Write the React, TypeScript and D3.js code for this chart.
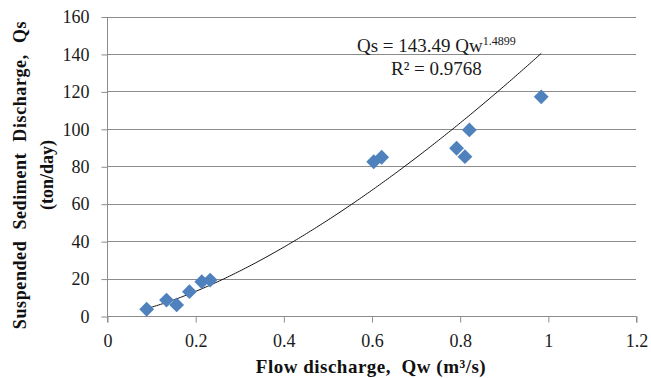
import React, { useRef, useEffect } from "react";
import * as d3 from "d3";

// Flow discharge Qw (m3/s) and suspended sediment discharge Qs (ton/day)
const flowQw = [0.09, 0.135, 0.158, 0.187, 0.215, 0.234, 0.605, 0.623, 0.793, 0.812, 0.822, 0.985];
const sedimentQs = [3.6, 8.5, 5.9, 13, 18.3, 19.2, 82.4, 84.8, 89.6, 85.1, 99.4, 117.1];

const xTicks = [0, 0.2, 0.4, 0.6, 0.8, 1, 1.2];
const yTicks = [0, 20, 40, 60, 80, 100, 120, 140, 160];

// power trend shown on the chart
const coefA = 143.49;
const coefB = 1.4899;
const rSquared = "0.9768";

export default function App() {
  const ref = useRef<SVGSVGElement>(null);

  useEffect(() => {
    if (!ref.current) return;
    const svg = d3.select(ref.current);
    svg.selectAll("*").remove();

    const w = 651;
    const h = 378;
    const margin = { top: 16.5, right: 15, bottom: 62, left: 107 };

    const x = d3.scaleLinear().domain([0, 1.2]).range([margin.left, w - margin.right]);
    const y = d3.scaleLinear().domain([0, 160]).range([h - margin.bottom, margin.top]);

    const serif = "'Liberation Serif', 'Times New Roman', serif";
    const grid = "#8c8c8c";

    // horizontal gridlines
    svg.append("g")
      .selectAll("line")
      .data(yTicks.filter(t => t > 0))
      .enter()
      .append("line")
      .attr("x1", x(0))
      .attr("x2", x(1.2))
      .attr("y1", d => Math.round(y(d)) + 0.5)
      .attr("y2", d => Math.round(y(d)) + 0.5)
      .attr("stroke", grid)
      .attr("stroke-width", 1);

    // y axis
    const yAxis = svg.append("g")
      .attr("transform", `translate(${x(0) + 0.5},0.5)`)
      .call(d3.axisLeft(y).tickValues(yTicks).tickSize(6).tickPadding(12).tickFormat(d3.format("d")));
    yAxis.select(".domain").attr("stroke", grid).attr("d", `M0,${y(160)}V${y(0)}`);
    yAxis.selectAll(".tick line").attr("stroke", grid);
    yAxis.selectAll("text")
      .attr("font-family", serif)
      .attr("font-size", 18)
      .attr("fill", "#1a1a1a");

    // x axis
    const xAxis = svg.append("g")
      .attr("transform", `translate(0.5,${Math.round(y(0)) + 0.5})`)
      .call(d3.axisBottom(x).tickValues(xTicks).tickSize(6).tickPadding(12).tickFormat(d => String(d)));
    xAxis.select(".domain").attr("stroke", grid).attr("d", `M${x(0)},6V0H${x(1.2)}V6`);
    xAxis.selectAll(".tick line").attr("stroke", grid);
    xAxis.selectAll("text")
      .attr("font-family", serif)
      .attr("font-size", 18)
      .attr("fill", "#1a1a1a");

    // trend line
    const lo = d3.min(flowQw)!;
    const hi = d3.max(flowQw)!;
    const xs = d3.range(0, 201).map(i => lo + (hi - lo) * i / 200);
    const line = d3.line<number>()
      .x(d => x(d))
      .y(d => y(coefA * Math.pow(d, coefB)));
    svg.append("path")
      .datum(xs)
      .attr("d", line)
      .attr("fill", "none")
      .attr("stroke", "#111")
      .attr("stroke-width", 1);

    // points (diamonds)
    const diamond = d3.symbol().type(d3.symbolDiamond2).size(140);
    svg.append("g")
      .selectAll("path")
      .data(flowQw.map((q, i) => [q, sedimentQs[i]]))
      .enter()
      .append("path")
      .attr("d", diamond)
      .attr("transform", d => `translate(${x(d[0])},${y(d[1])})`)
      .attr("fill", "#4f81bd");

    // equation
    const eq = svg.append("text")
      .attr("x", 357)
      .attr("y", 52)
      .attr("font-family", serif)
      .attr("font-size", 19)
      .attr("fill", "#1a1a1a");
    eq.append("tspan").text(`Qs = ${coefA} Qw`);
    eq.append("tspan").attr("font-size", 12).attr("dy", -7).text(String(coefB));
    svg.append("text")
      .attr("x", 391)
      .attr("y", 75)
      .attr("font-family", serif)
      .attr("font-size", 19)
      .attr("fill", "#1a1a1a")
      .text(`R² = ${rSquared}`);

    // axis titles
    svg.append("text")
      .attr("x", 371)
      .attr("y", 373)
      .attr("text-anchor", "middle")
      .attr("font-family", serif)
      .attr("font-weight", "bold")
      .attr("font-size", 19)
      .attr("letter-spacing", 0.5)
      .attr("fill", "#111")
      .attr("xml:space", "preserve")
      .text("Flow discharge,  Qw (m³/s)");

    const yt = svg.append("g").attr("transform", "translate(0,175) rotate(-90)");
    yt.append("text")
      .attr("x", 0)
      .attr("y", 26)
      .attr("text-anchor", "middle")
      .attr("font-family", serif)
      .attr("font-weight", "bold")
      .attr("font-size", 18)
      .attr("fill", "#111")
      .attr("word-spacing", 6)
      .attr("letter-spacing", 0.6)
      .text("Suspended Sediment Discharge, Qs");
    yt.append("text")
      .attr("x", 0)
      .attr("y", 53)
      .attr("text-anchor", "middle")
      .attr("font-family", serif)
      .attr("font-weight", "bold")
      .attr("font-size", 18)
      .attr("fill", "#111")
      .text("(ton/day)");
  }, []);

  return (
    <svg
      ref={ref}
      width={651}
      height={378}
      style={{ position: "absolute", left: 0, top: 0, background: "#fff" }}
    />
  );
}
